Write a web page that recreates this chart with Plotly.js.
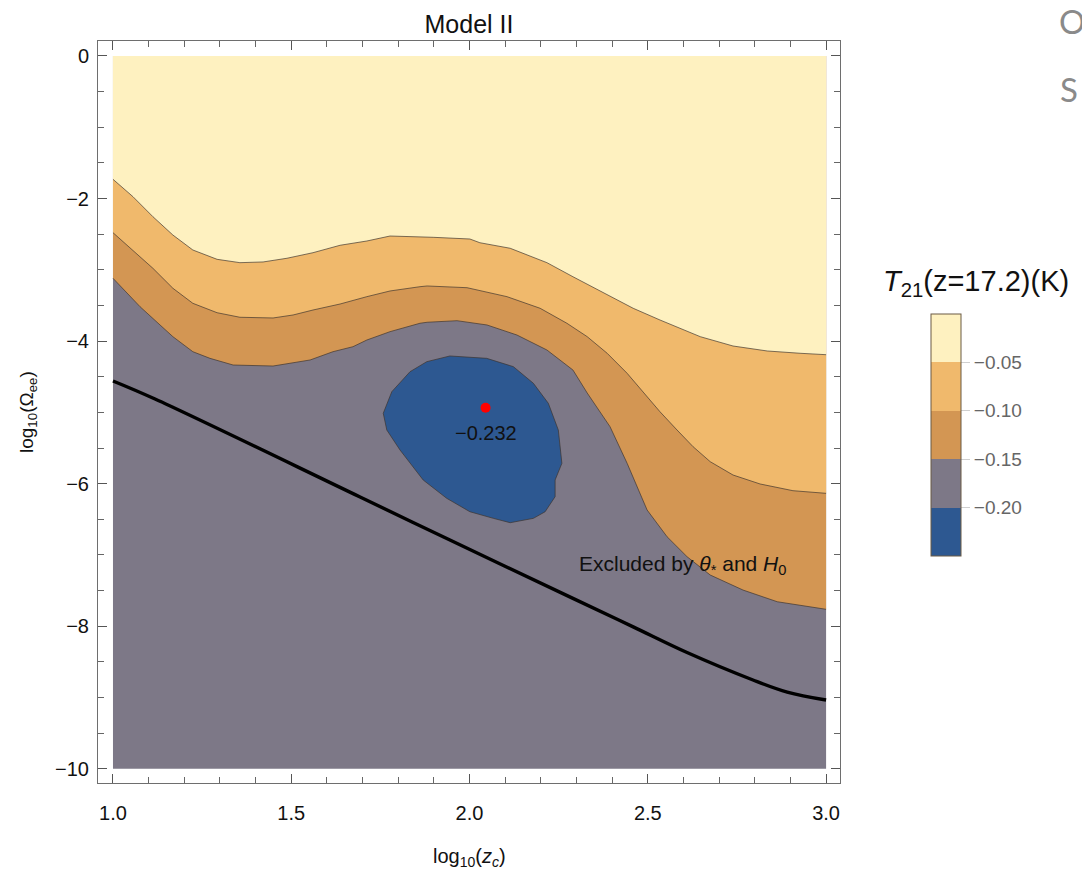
<!DOCTYPE html>
<html>
<head>
<meta charset="utf-8">
<script src="https://cdn.plot.ly/plotly-3.0.1.min.js"></script>
<style>html,body{margin:0;padding:0;background:#fff;}#chart{width:1082px;height:871px;}</style>
</head>
<body>
<div id="chart"></div>
<script>
// ---- data ----
const xDomain = [1, 3];          // log10(z_c)
const yDomain = [-10, 0];        // log10(Omega_ee)

const levelEdges = [-0.25, -0.20, -0.15, -0.10, -0.05, 0];
const levelColors = ['#2D5891', '#7D7887', '#D39653', '#F0B96C', '#FEF1C0'];
const colorbarTicks = [-0.05, -0.10, -0.15, -0.20];
const colorbarTickText = ['\u22120.05', '\u22120.10', '\u22120.15', '\u22120.20'];

// contour T21 = -0.05 K
const c005X = [1.000,1.056,1.112,1.168,1.224,1.292,1.356,1.421,1.488,1.561,1.637,1.712,1.777,1.861,1.898,2.001,2.029,2.114,2.217,2.290,2.386,2.459,2.534,2.647,2.739,2.835,2.927,3.000];
const c005Y = [-1.730,-1.974,-2.255,-2.512,-2.722,-2.853,-2.900,-2.890,-2.838,-2.760,-2.656,-2.596,-2.526,-2.535,-2.544,-2.568,-2.620,-2.698,-2.900,-3.097,-3.353,-3.540,-3.704,-3.938,-4.069,-4.139,-4.171,-4.191];

// contour T21 = -0.10 K
const c010X = [1.000,1.056,1.112,1.168,1.224,1.292,1.356,1.449,1.505,1.561,1.637,1.712,1.777,1.861,1.881,1.993,2.105,2.198,2.273,2.330,2.386,2.442,2.498,2.534,2.582,2.627,2.675,2.739,2.815,2.907,3.000];
const c010Y = [-2.479,-2.722,-2.979,-3.259,-3.470,-3.602,-3.666,-3.676,-3.634,-3.564,-3.480,-3.377,-3.297,-3.237,-3.227,-3.251,-3.377,-3.540,-3.750,-3.938,-4.171,-4.452,-4.780,-4.991,-5.248,-5.482,-5.692,-5.879,-6.005,-6.099,-6.136];

// contour T21 = -0.15 K
const c015X = [1.000,1.076,1.132,1.168,1.224,1.272,1.337,1.449,1.553,1.617,1.673,1.712,1.777,1.861,1.881,1.965,2.049,2.133,2.217,2.290,2.330,2.394,2.442,2.498,2.554,2.610,2.675,2.767,2.863,3.000];
const c015Y = [-3.119,-3.518,-3.774,-3.938,-4.149,-4.242,-4.336,-4.350,-4.265,-4.149,-4.079,-3.985,-3.868,-3.750,-3.736,-3.714,-3.774,-3.915,-4.125,-4.406,-4.728,-5.201,-5.715,-6.370,-6.745,-7.025,-7.282,-7.493,-7.657,-7.763];

// closed contour T21 = -0.20 K
const c020X = [1.945,2.048,2.123,2.179,2.221,2.249,2.259,2.240,2.240,2.212,2.179,2.114,2.067,2.001,1.936,1.870,1.805,1.768,1.758,1.782,1.833,1.880,1.945];
const c020Y = [-4.209,-4.242,-4.359,-4.592,-4.873,-5.248,-5.715,-5.949,-6.183,-6.394,-6.487,-6.548,-6.487,-6.394,-6.206,-5.949,-5.528,-5.248,-5.013,-4.710,-4.430,-4.289,-4.209];

// exclusion bound from theta_* and H0
const boundX = [1.000,1.118,1.693,1.945,2.290,2.459,2.610,2.795,2.891,3.000];
const boundY = [-4.560,-4.813,-6.188,-6.791,-7.610,-8.010,-8.370,-8.755,-8.924,-9.036];

// minimum point
const minX = [2.045];
const minY = [-4.935];
const minLabel = '\u22120.232';
const minLabelY = -5.294;

const excludedText = 'Excluded by <i>\u03b8</i><sub>*</sub> and <i>H</i><sub>0</sub>';
const excludedX = 2.597;
const excludedY = -7.142;

// ---- build traces ----
const FONT = 'Liberation Sans, Arial, Helvetica, sans-serif';
const edgeColor = 'rgba(60,50,45,0.75)';

function region(xs, ys, color) {
  // region above a contour up to the top of the domain
  const px = xs.concat([xDomain[1], xDomain[0]]);
  const py = ys.concat([yDomain[1], yDomain[1]]);
  return {type:'scatter', mode:'lines', x:px, y:py, fill:'toself', fillcolor:color,
          line:{width:0}, hoverinfo:'skip', showlegend:false};
}
function edge(xs, ys) {
  return {type:'scatter', mode:'lines', x:xs, y:ys, line:{color:edgeColor, width:0.9},
          hoverinfo:'skip', showlegend:false};
}

const cs = [];
const nBins = levelColors.length;
for (let i = 0; i < nBins; i++) {
  cs.push([i / nBins, levelColors[i]]);
  cs.push([(i + 1) / nBins, levelColors[i]]);
}

const traces = [
  {type:'scatter', mode:'lines',
   x:[xDomain[0], xDomain[1], xDomain[1], xDomain[0], xDomain[0]],
   y:[yDomain[0], yDomain[0], yDomain[1], yDomain[1], yDomain[0]],
   fill:'toself', fillcolor:levelColors[1], line:{width:0}, hoverinfo:'skip', showlegend:false},
  region(c015X, c015Y, levelColors[2]),
  region(c010X, c010Y, levelColors[3]),
  region(c005X, c005Y, levelColors[4]),
  {type:'scatter', mode:'lines', x:c020X, y:c020Y, fill:'toself', fillcolor:levelColors[0],
   line:{color:edgeColor, width:0.9}, hoverinfo:'skip', showlegend:false},
  edge(c015X, c015Y),
  edge(c010X, c010Y),
  edge(c005X, c005Y),
  {type:'scatter', mode:'lines', x:boundX, y:boundY, line:{color:'#000', width:3.4, shape:'spline', smoothing:1},
   hoverinfo:'skip', showlegend:false},
  {type:'scatter', mode:'markers', x:minX, y:minY, marker:{color:'#FF0000', size:10},
   hoverinfo:'skip', showlegend:false},
  // colorbar carrier
  {type:'scatter', mode:'markers', x:[xDomain[0]], y:[yDomain[0]],
   marker:{color:[levelEdges[2]], opacity:0, size:1, colorscale:cs, cmin:levelEdges[0], cmax:levelEdges[levelEdges.length-1],
           showscale:true,
           colorbar:{thickness:30, thicknessmode:'pixels', len:242, lenmode:'pixels',
                     x:1.1226, xanchor:'left', xpad:0, y:0.469, yanchor:'middle', ypad:0,
                     outlinewidth:1, outlinecolor:'#6b5a45',
                     tickmode:'array', tickvals:colorbarTicks, ticktext:colorbarTickText,
                     ticks:'outside', ticklen:9, tickcolor:'#cfcfcf', tickwidth:1,
                     tickfont:{family:FONT, size:19, color:'#666'}}},
   hoverinfo:'skip', showlegend:false}
];

const axisCommon = {
  showgrid:false, zeroline:false, showline:true, linecolor:'#6e6e6e', linewidth:1,
  mirror:'ticks', ticks:'inside', ticklen:9, tickwidth:1, tickcolor:'#555',
  tickfont:{family:FONT, size:20, color:'#111'}
};

const layout = {
  width:1082, height:871,
  margin:{l:98, r:242, t:41, b:88, pad:0},
  paper_bgcolor:'#fff', plot_bgcolor:'#fff',
  font:{family:FONT, color:'#111'},
  title:{text:'Model II', x:0.5, xref:'paper', xanchor:'center', y:1-24/871, yref:'container', yanchor:'middle',
         font:{family:FONT, size:25, color:'#111'}},
  xaxis:Object.assign({}, axisCommon, {
    range:[0.958, 3.039], tickmode:'linear', tick0:1, dtick:0.5, tickformat:'.1f',
    ticklabelstandoff:12,
    minor:{tickmode:'linear', tick0:1, dtick:0.1, ticks:'inside', ticklen:6, tickwidth:1, tickcolor:'#666', showgrid:false}
  }),
  yaxis:Object.assign({}, axisCommon, {
    range:[-10.2, 0.21], tickmode:'linear', tick0:0, dtick:2,
    ticklabelstandoff:4,
    minor:{tickmode:'linear', tick0:0, dtick:0.5, ticks:'inside', ticklen:6, tickwidth:1, tickcolor:'#666', showgrid:false}
  }),
  annotations:[
    {text:minLabel, x:minX[0], y:minLabelY, xref:'x', yref:'y', showarrow:false,
     font:{family:FONT, size:20, color:'#111'}},
    {text:excludedText, x:excludedX, y:excludedY, xref:'x', yref:'y', showarrow:false,
     font:{family:FONT, size:21, color:'#111'}},
    {text:'log<sub>10</sub>(<i>z</i><sub><i>c</i></sub>)', x:0.5, y:-(857-783)/742, xref:'paper', yref:'paper',
     xanchor:'center', yanchor:'middle', showarrow:false, font:{family:FONT, size:20, color:'#111'}},
    {text:'log<sub>10</sub>(\u03a9<sub>ee</sub>)', x:(28-98)/742, y:0.5, xref:'paper', yref:'paper',
     xanchor:'center', yanchor:'middle', textangle:-90, showarrow:false, font:{family:FONT, size:19, color:'#111'}},
    {text:'<i>T</i><sub>21</sub>(z=17.2)(K)', x:(881-98)/742, y:(783-283)/742, xref:'paper', yref:'paper',
     xanchor:'left', yanchor:'middle', showarrow:false, font:{family:FONT, size:29, color:'#111'}},
    {text:'O', x:(1057-98)/742, y:(783-21)/742, xref:'paper', yref:'paper',
     xanchor:'left', yanchor:'middle', showarrow:false, font:{family:'Lato, Noto Sans, sans-serif', size:33, color:'#8a8a8a'}},
    {text:'S', x:(1058-98)/742, y:(783-89)/742, xref:'paper', yref:'paper',
     xanchor:'left', yanchor:'middle', showarrow:false, font:{family:'Lato, Noto Sans, sans-serif', size:33, color:'#8a8a8a'}}
  ]
};

Plotly.newPlot('chart', traces, layout, {staticPlot:true, displayModeBar:false});
</script>
</body>
</html>
